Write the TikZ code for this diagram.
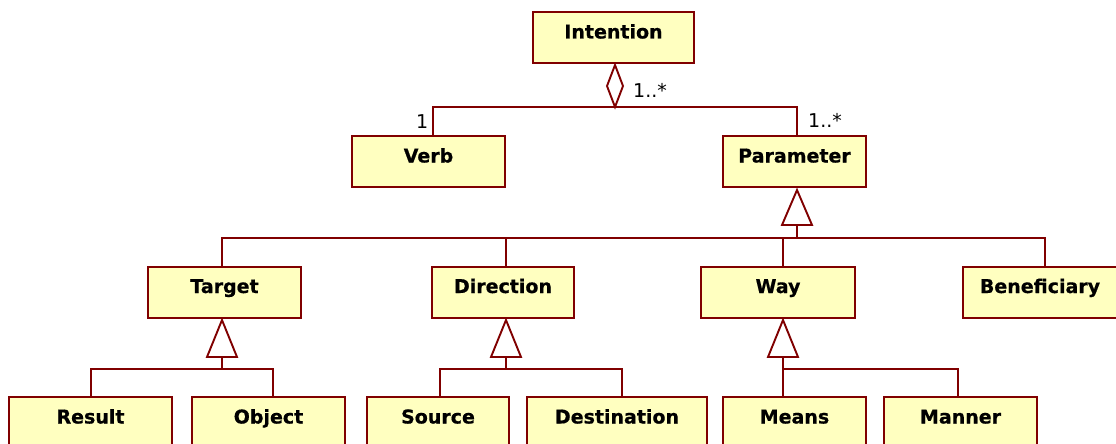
\documentclass[tikz,border=0pt]{standalone}
\usepackage{fontspec}
\setmainfont{DejaVu Sans}
\newfontfamily\boxfont[FakeBold=0.6]{DejaVu Sans Bold}
\usetikzlibrary{calc}
\definecolor{umlred}{RGB}{128,0,0}
\definecolor{umlfill}{RGB}{255,255,192}
\tikzset{
  cls/.style={draw=umlred, fill=umlfill, line width=2pt, inner xsep=0pt, inner ysep=0pt,
    text height=26.5pt, text depth=24.5pt, font=\fontsize{19}{21}\selectfont\boxfont},
  conn/.style={draw=umlred, line width=1.9pt},
  mult/.style={anchor=base west, inner sep=0pt, font=\fontsize{19}{21}\selectfont}
}
\begin{document}
\begin{tikzpicture}[x={(1pt,0)}, y={(0,-1pt)}]
\useasboundingbox (0,0) rectangle (1116,444);
\clip (0,0) rectangle (1116,444);
% classes
\node[cls, minimum width=161pt] (intention) at (613.5,37.5) {Intention};
\node[cls, minimum width=153pt] (verb) at (428.5,161.5) {Verb};
\node[cls, minimum width=143pt] (param) at (794.5,161.5) {Parameter};
\node[cls, minimum width=153pt] (target) at (224.5,292) {Target};
\node[cls, minimum width=142pt] (direction) at (503,292) {Direction};
\node[cls, minimum width=154pt] (way) at (778,292) {Way};
\node[cls, minimum width=154pt] (benef) at (1040,292) {Beneficiary};
\node[cls, minimum width=163pt] (result) at (90.5,422.5) {Result};
\node[cls, minimum width=153pt] (object) at (268.5,422.5) {Object};
\node[cls, minimum width=142pt] (source) at (438,422.5) {Source};
\node[cls, minimum width=180pt] (dest) at (617,422.5) {Destination};
\node[cls, minimum width=143pt] (means) at (794.5,422.5) {Means};
\node[cls, minimum width=153pt] (manner) at (960.5,422.5) {Manner};
% aggregation
\coordinate (aggtop) at (615,65);
\coordinate (agg) at (615,107);
\draw[conn] ([xshift=4.5pt]verb.north) |- (agg) -| ([xshift=2.5pt]param.north);
\draw[conn, fill=white, line join=miter] (aggtop) -- (623,86) -- (agg) -- (607,86) -- cycle;
\node[mult] (m1) at (633,97) {1..*};
\node[mult] (m2) at (808,127) {1..*};
\node[mult] (m3) at (416,128) {1};
% generalization: Parameter
\coordinate (gP) at (797,238);
\draw[conn] ([xshift=-2.5pt]target.north) |- (gP);
\draw[conn] ([xshift=3pt]direction.north) |- (gP);
\draw[conn] ([xshift=5pt]way.north) |- (gP);
\draw[conn] ([xshift=5pt]benef.north) |- (gP);
\draw[conn] (gP) -- (797,225);
\draw[conn, fill=white] (797,190) -- (812,225) -- (782,225) -- cycle;
% generalization: Target
\coordinate (gT) at (222,369);
\draw[conn] ([xshift=0.5pt]result.north) |- (gT);
\draw[conn] ([xshift=4.5pt]object.north) |- (gT);
\draw[conn] (gT) -- (222,357);
\draw[conn, fill=white] (222,320) -- (237,357) -- (207,357) -- cycle;
% generalization: Direction
\coordinate (gD) at (506,369);
\draw[conn] ([xshift=2pt]source.north) |- (gD);
\draw[conn] ([xshift=5pt]dest.north) |- (gD);
\draw[conn] (gD) -- (506,357);
\draw[conn, fill=white] (506,320) -- (521,357) -- (491,357) -- cycle;
% generalization: Way
\coordinate (gW) at (783,369);
\draw[conn] ([xshift=-11.5pt]means.north) |- (gW);
\draw[conn] ([xshift=-2.5pt]manner.north) |- (gW);
\draw[conn] (gW) -- (783,357);
\draw[conn, fill=white] (783,320) -- (798,357) -- (768,357) -- cycle;
\end{tikzpicture}
\end{document}
